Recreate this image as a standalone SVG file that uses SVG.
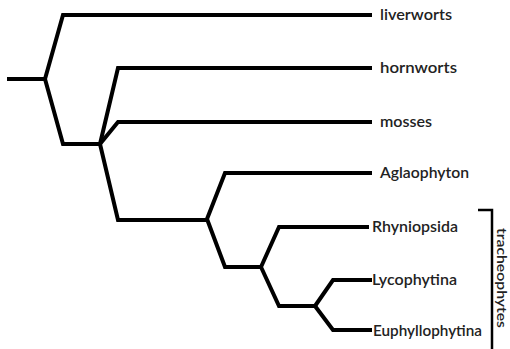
<svg xmlns="http://www.w3.org/2000/svg" width="510" height="349" viewBox="0 0 510 349">
<style>
.e{fill:none;stroke:#000;stroke-width:4;stroke-linejoin:miter;stroke-linecap:butt}
.t{font-family:Lato,"Open Sans",sans-serif;font-size:15px;font-weight:600;fill:#222;}
</style>
<rect width="510" height="349" fill="#fff"/>
<g id="connectors">
<path class="e" d="M7,79 H45"/>
<path class="e" d="M45,79 L63,15 H372"/>
<path class="e" d="M45,79 L63,144 H100"/>
<path class="e" d="M100,144 L118,68 H372"/>
<path class="e" d="M100,144 L118,122 H372"/>
<path class="e" d="M100,144 L118,220 H207"/>
<path class="e" d="M207,219 L225,173 H372"/>
<path class="e" d="M207,219 L225,267 H261"/>
<path class="e" d="M261,267 L279,227 H369"/>
<path class="e" d="M261,267 L279,306 H315"/>
<path class="e" d="M315,306 L333,280 H372"/>
<path class="e" d="M315,306 L333,330 H372"/>
</g>
<g id="liverworts"><text class="t" x="380" y="20" textLength="72" lengthAdjust="spacingAndGlyphs">liverworts</text></g>
<g id="hornworts"><text class="t" x="380" y="73" textLength="77" lengthAdjust="spacingAndGlyphs">hornworts</text></g>
<g id="mosses"><text class="t" x="380" y="127" textLength="52" lengthAdjust="spacingAndGlyphs">mosses</text></g>
<g id="aglaophyton"><text class="t" x="380" y="178" textLength="89" lengthAdjust="spacingAndGlyphs">Aglaophyton</text></g>
<g id="rhyniopsida"><text class="t" x="372" y="232" textLength="86" lengthAdjust="spacingAndGlyphs">Rhyniopsida</text></g>
<g id="lycophytina"><text class="t" x="372" y="285" textLength="85" lengthAdjust="spacingAndGlyphs">Lycophytina</text></g>
<g id="euphyllophytina"><text class="t" x="373" y="336" textLength="109" lengthAdjust="spacingAndGlyphs">Euphyllophytina</text></g>
<g id="tracheophytes">
<path d="M478,210 H492 V349" fill="none" stroke="#000" stroke-width="2.5"/>
<text class="t" style="font-size:14px" transform="translate(497,278) rotate(90)" text-anchor="middle" textLength="100" lengthAdjust="spacingAndGlyphs">tracheophytes</text>
</g>
</svg>
